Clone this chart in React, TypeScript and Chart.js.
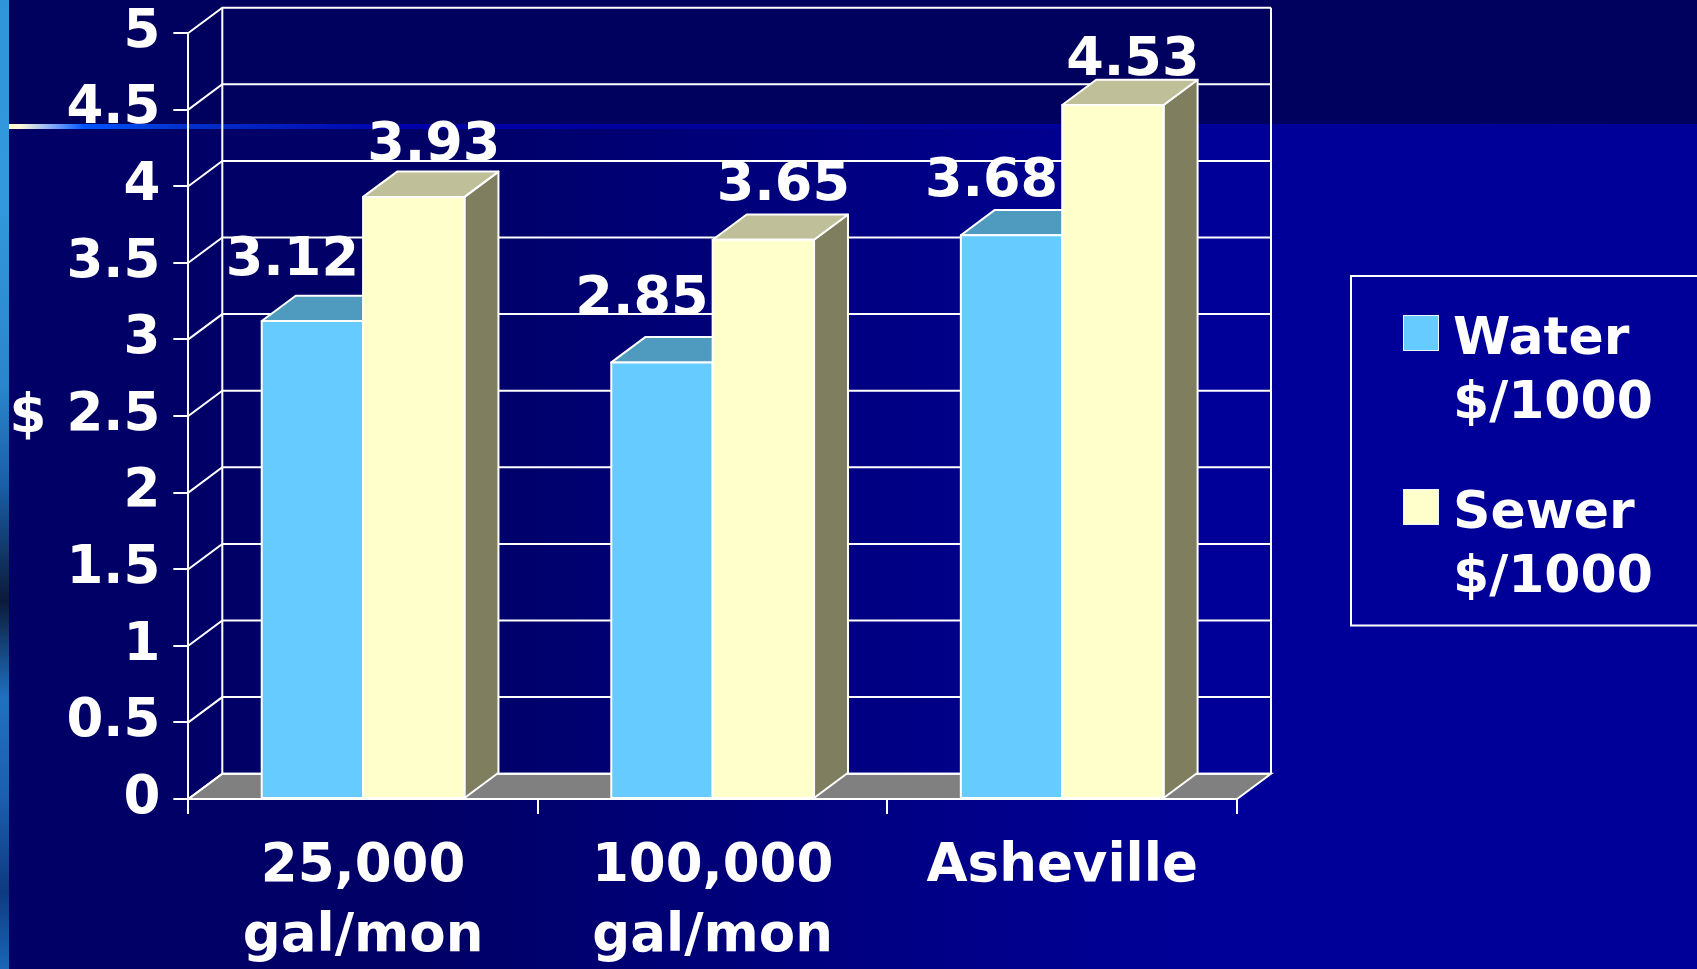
import React, { useEffect, useRef } from 'react';
import { Chart, registerables } from 'chart.js';

Chart.register(...registerables);

// ---------- data ----------
const categories: (string | string[])[] = [['25,000', 'gal/mon'], ['100,000', 'gal/mon'], 'Asheville'];
const waterValues = [3.12, 2.85, 3.68];
const sewerValues = [3.93, 3.65, 4.53];
const seriesNames = ['Water', 'Sewer'];
const seriesUnits = ['$/1000', '$/1000'];
const yAxisLabel = '$';
const yMin = 0;
const yMax = 5;
const yStep = 0.5;

// ---------- style ----------
const W = 1697;
const H = 969;
const FONT = '"DejaVu Sans", Verdana, sans-serif';
const DX = 34;
const DY = -25.3;
const LINE_W = 2;
const faces = [
  { front: '#66CCFF', top: '#4F9BBF', side: '#3D7A99' },
  { front: '#FFFFCC', top: '#BFBF9A', side: '#7F7F60' },
];
const labelShiftX = [-20, 20];
const labelLift = (v: number) => 80 - 11 * v;

type Pt = [number, number];
function poly(ctx: CanvasRenderingContext2D, pts: Pt[], fill: string) {
  ctx.beginPath();
  ctx.moveTo(pts[0][0], pts[0][1]);
  for (let i = 1; i < pts.length; i++) ctx.lineTo(pts[i][0], pts[i][1]);
  ctx.closePath();
  ctx.fillStyle = fill;
  ctx.fill();
  ctx.stroke();
}

const threeD = {
  id: 'threeD',
  beforeDatasetsDraw(chart: any) {
    const { ctx, chartArea } = chart;
    const { left: L, right: R, top: T, bottom: B } = chartArea;
    const y = chart.scales.y;
    ctx.save();
    ctx.strokeStyle = '#FFFFFF';
    ctx.lineWidth = LINE_W;
    // floor
    poly(ctx, [[L, B], [L + DX, B + DY], [R + DX, B + DY], [R, B]], '#808080');
    // back wall verticals
    ctx.beginPath();
    ctx.moveTo(L + DX, B + DY);
    ctx.lineTo(L + DX, T + DY);
    ctx.moveTo(R + DX, B + DY);
    ctx.lineTo(R + DX, T + DY);
    ctx.stroke();
    // side wall diagonals + back wall gridlines
    y.ticks.forEach((t: any) => {
      const py = y.getPixelForValue(t.value);
      ctx.beginPath();
      ctx.moveTo(L, py);
      ctx.lineTo(L + DX, py + DY);
      ctx.lineTo(R + DX, py + DY);
      ctx.stroke();
    });
    ctx.restore();
  },
  afterDatasetsDraw(chart: any) {
    const { ctx, chartArea } = chart;
    const { left: L, right: R, bottom: B } = chartArea;
    const nCat = chart.data.labels.length;
    const nDs = chart.data.datasets.length;
    ctx.save();
    ctx.strokeStyle = '#FFFFFF';
    ctx.lineWidth = LINE_W;
    ctx.lineJoin = 'round';
    for (let j = 0; j < nCat; j++) {
      for (let i = 0; i < nDs; i++) {
        const el = chart.getDatasetMeta(i).data[j];
        const { x, y, width, base } = el.getProps(['x', 'y', 'width', 'base'], true);
        const l = x - width / 2;
        const r = x + width / 2;
        const f = faces[i];
        poly(ctx, [[r, y], [r + DX, y + DY], [r + DX, base + DY], [r, base]], f.side);
        poly(ctx, [[l, y], [l + DX, y + DY], [r + DX, y + DY], [r, y]], f.top);
        poly(ctx, [[l, y], [r, y], [r, base], [l, base]], f.front);
      }
    }
    // front edge of floor
    ctx.beginPath();
    ctx.moveTo(L, B);
    ctx.lineTo(R, B);
    ctx.stroke();
    // value labels
    ctx.fillStyle = '#FFFFFF';
    ctx.font = `bold 54px ${FONT}`;
    ctx.textAlign = 'center';
    ctx.textBaseline = 'alphabetic';
    for (let i = 0; i < nDs; i++) {
      const ds = chart.data.datasets[i];
      chart.getDatasetMeta(i).data.forEach((el: any, j: number) => {
        const v = ds.data[j] as number;
        const { x, y } = el.getProps(['x', 'y'], true);
        ctx.fillText(v.toFixed(2), x + labelShiftX[i], y - labelLift(v));
      });
    }
    ctx.restore();
  },
  afterDraw(chart: any) {
    const { ctx } = chart;
    const y = chart.scales.y;
    ctx.save();
    // axis "$" label
    ctx.fillStyle = '#FFFFFF';
    ctx.font = `bold 53px ${FONT}`;
    ctx.textAlign = 'center';
    ctx.textBaseline = 'middle';
    ctx.fillText(yAxisLabel, 28, y.getPixelForValue((yMin + yMax) / 2) + 2);
    // legend
    ctx.strokeStyle = '#FFFFFF';
    ctx.lineWidth = LINE_W;
    ctx.strokeRect(1351, 276, 420, 349.5);
    ctx.font = `bold 52px ${FONT}`;
    ctx.textAlign = 'left';
    ctx.textBaseline = 'alphabetic';
    chart.data.datasets.forEach((ds: any, i: number) => {
      const base = 354 + i * 174;
      ctx.fillStyle = faces[i].front;
      ctx.lineWidth = 1;
      ctx.fillRect(1403, base - 39, 36, 36);
      ctx.strokeStyle = '#E8F4FF';
      ctx.strokeRect(1403.5, base - 38.5, 35, 35);
      ctx.fillStyle = '#FFFFFF';
      const parts = String(ds.label).split(' ');
      ctx.fillText(parts[0], 1453, base);
      ctx.fillText(parts.slice(1).join(' '), 1453, base + 64);
    });
    ctx.restore();
  },
};

export default function App() {
  const ref = useRef<HTMLCanvasElement | null>(null);
  useEffect(() => {
    if (!ref.current) return;
    const chart = new Chart(ref.current, {
      type: 'bar',
      data: {
        labels: categories as any,
        datasets: [
          {
            label: `${seriesNames[0]} ${seriesUnits[0]}`,
            data: waterValues,
            backgroundColor: faces[0].front,
            categoryPercentage: 0.58,
            barPercentage: 1,
          },
          {
            label: `${seriesNames[1]} ${seriesUnits[1]}`,
            data: sewerValues,
            backgroundColor: faces[1].front,
            categoryPercentage: 0.58,
            barPercentage: 1,
          },
        ],
      },
      options: {
        responsive: false,
        animation: false,
        devicePixelRatio: 1,
        layout: { padding: { top: 33, right: 460, bottom: 0, left: 0 } },
        plugins: { legend: { display: false }, tooltip: { enabled: false } },
        scales: {
          x: {
            offset: true,
            grid: {
              offset: true,
              drawOnChartArea: false,
              drawTicks: true,
              tickLength: 15,
              color: '#FFFFFF',
              lineWidth: LINE_W,
            },
            border: { display: true, color: '#FFFFFF', width: LINE_W },
            ticks: {
              color: '#FFFFFF',
              font: { family: FONT, size: 53, weight: 'bold', lineHeight: 70 / 53 },
              padding: 18,
              autoSkip: false,
              maxRotation: 0,
              minRotation: 0,
            },
            afterFit: (s: any) => {
              s.height = H - 799;
            },
          },
          y: {
            min: yMin,
            max: yMax,
            grid: {
              drawOnChartArea: false,
              drawTicks: true,
              tickLength: 15,
              color: '#FFFFFF',
              lineWidth: LINE_W,
            },
            border: { display: true, color: '#FFFFFF', width: LINE_W },
            ticks: {
              stepSize: yStep,
              callback: (v: any) => String(Number(v)),
              color: '#FFFFFF',
              font: { family: FONT, size: 53, weight: 'bold', lineHeight: 0.4 },
              padding: 13,
              autoSkip: false,
            },
            afterFit: (s: any) => {
              s.width = 188.3;
            },
          },
        },
      } as any,
      plugins: [threeD],
    });
    return () => chart.destroy();
  }, []);

  return (
    <div
      style={{
        position: 'fixed',
        left: 0,
        top: 0,
        width: W,
        height: H,
        overflow: 'hidden',
        background:
          'linear-gradient(#00005F, #00005F) 0 0 / 100% 128px no-repeat, linear-gradient(to right, #000066 0%, #000066 25%, #000099 72%, #000099 100%)',
      }}
    >
      <div
        style={{
          position: 'absolute',
          left: 0,
          top: 0,
          width: 9,
          height: H,
          background:
            'linear-gradient(to bottom, #2E95DA 0%, #3399DD 20%, #2A85CC 40%, #1A5FA8 50%, #0B1A3A 62%, #2070C0 72%, #1C5FB0 82%, #0E3A80 92%, #1A66B8 100%)',
        }}
      />
      <div
        style={{
          position: 'absolute',
          left: 9,
          top: 124,
          width: W,
          height: 5,
          background:
            'linear-gradient(to right, #FFFFCC 0px, #FFF8D8 12px, #6699FF 50px, #0055FF 75px, #0033CC 170px, #0000AA 400px, #00009A 700px, #000099 100%)',
        }}
      />
      <canvas ref={ref} width={W} height={H} style={{ position: 'absolute', left: 0, top: 0 }} />
    </div>
  );
}
